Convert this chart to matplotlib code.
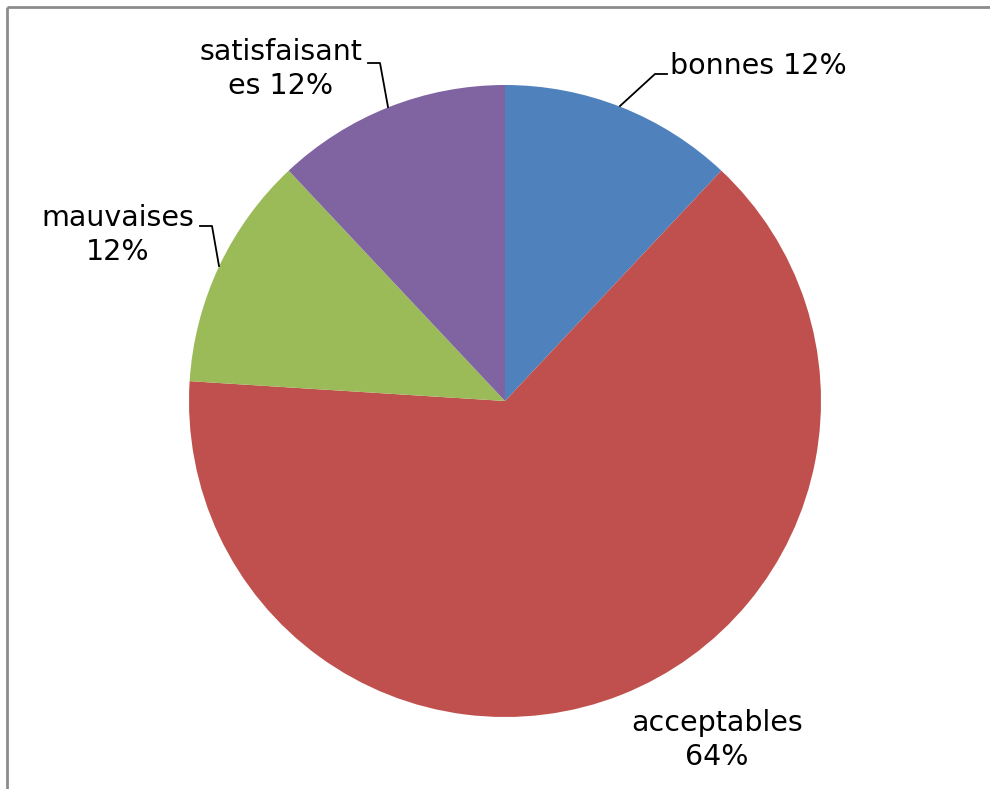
import matplotlib.pyplot as plt

# données
categories = ["bonnes", "acceptables", "mauvaises", "satisfaisantes"]
valeurs = [12, 64, 12, 12]
couleurs = ["#4F81BD", "#C0504D", "#9BBB59", "#8064A2"]
etiquettes = ["bonnes 12%", "acceptables\n64%", "mauvaises\n12%", "satisfaisant\nes 12%"]

W, H = 990, 789
fig = plt.figure(figsize=(W / 100, H / 100), dpi=100)
ax = fig.add_axes([0, 0, 1, 1])

# camembert (coordonnées en pixels, y vers le haut)
cx, cy, r = 505, H - 401, 316
ax.pie(valeurs, colors=couleurs, startangle=90, counterclock=False,
       center=(cx, cy), radius=r, frame=True,
       wedgeprops=dict(linewidth=0))
ax.set_xlim(0, W)
ax.set_ylim(0, H)
ax.set_aspect("equal")
ax.axis("off")

# étiquettes
fs = 20.5
ls = 1.25
ax.text(670, H - 66, etiquettes[0], fontsize=fs, ha="left", va="center")
ax.text(717, H - 740, etiquettes[1], fontsize=fs, ha="center", va="center",
        linespacing=ls)
ax.text(118, H - 235, etiquettes[2], fontsize=fs, ha="center", va="center",
        linespacing=ls)
ax.text(281, H - 69, etiquettes[3], fontsize=fs, ha="center", va="center",
        linespacing=ls)

# lignes de rappel
lk = dict(color="black", lw=1.3)
ax.plot([620, 655, 667], [H - 106, H - 74, H - 74], **lk)
ax.plot([368, 380, 388], [H - 63, H - 63, H - 107], **lk)
ax.plot([200, 212, 219], [H - 226, H - 226, H - 266], **lk)

# cadre (haut et gauche)
ax.plot([7, W], [H - 7, H - 7], color="#8c8c8c", lw=2, solid_capstyle="butt")
ax.plot([7, 7], [H - 7, 0], color="#8c8c8c", lw=2, solid_capstyle="butt")

fig.savefig("out.png", dpi=100)
